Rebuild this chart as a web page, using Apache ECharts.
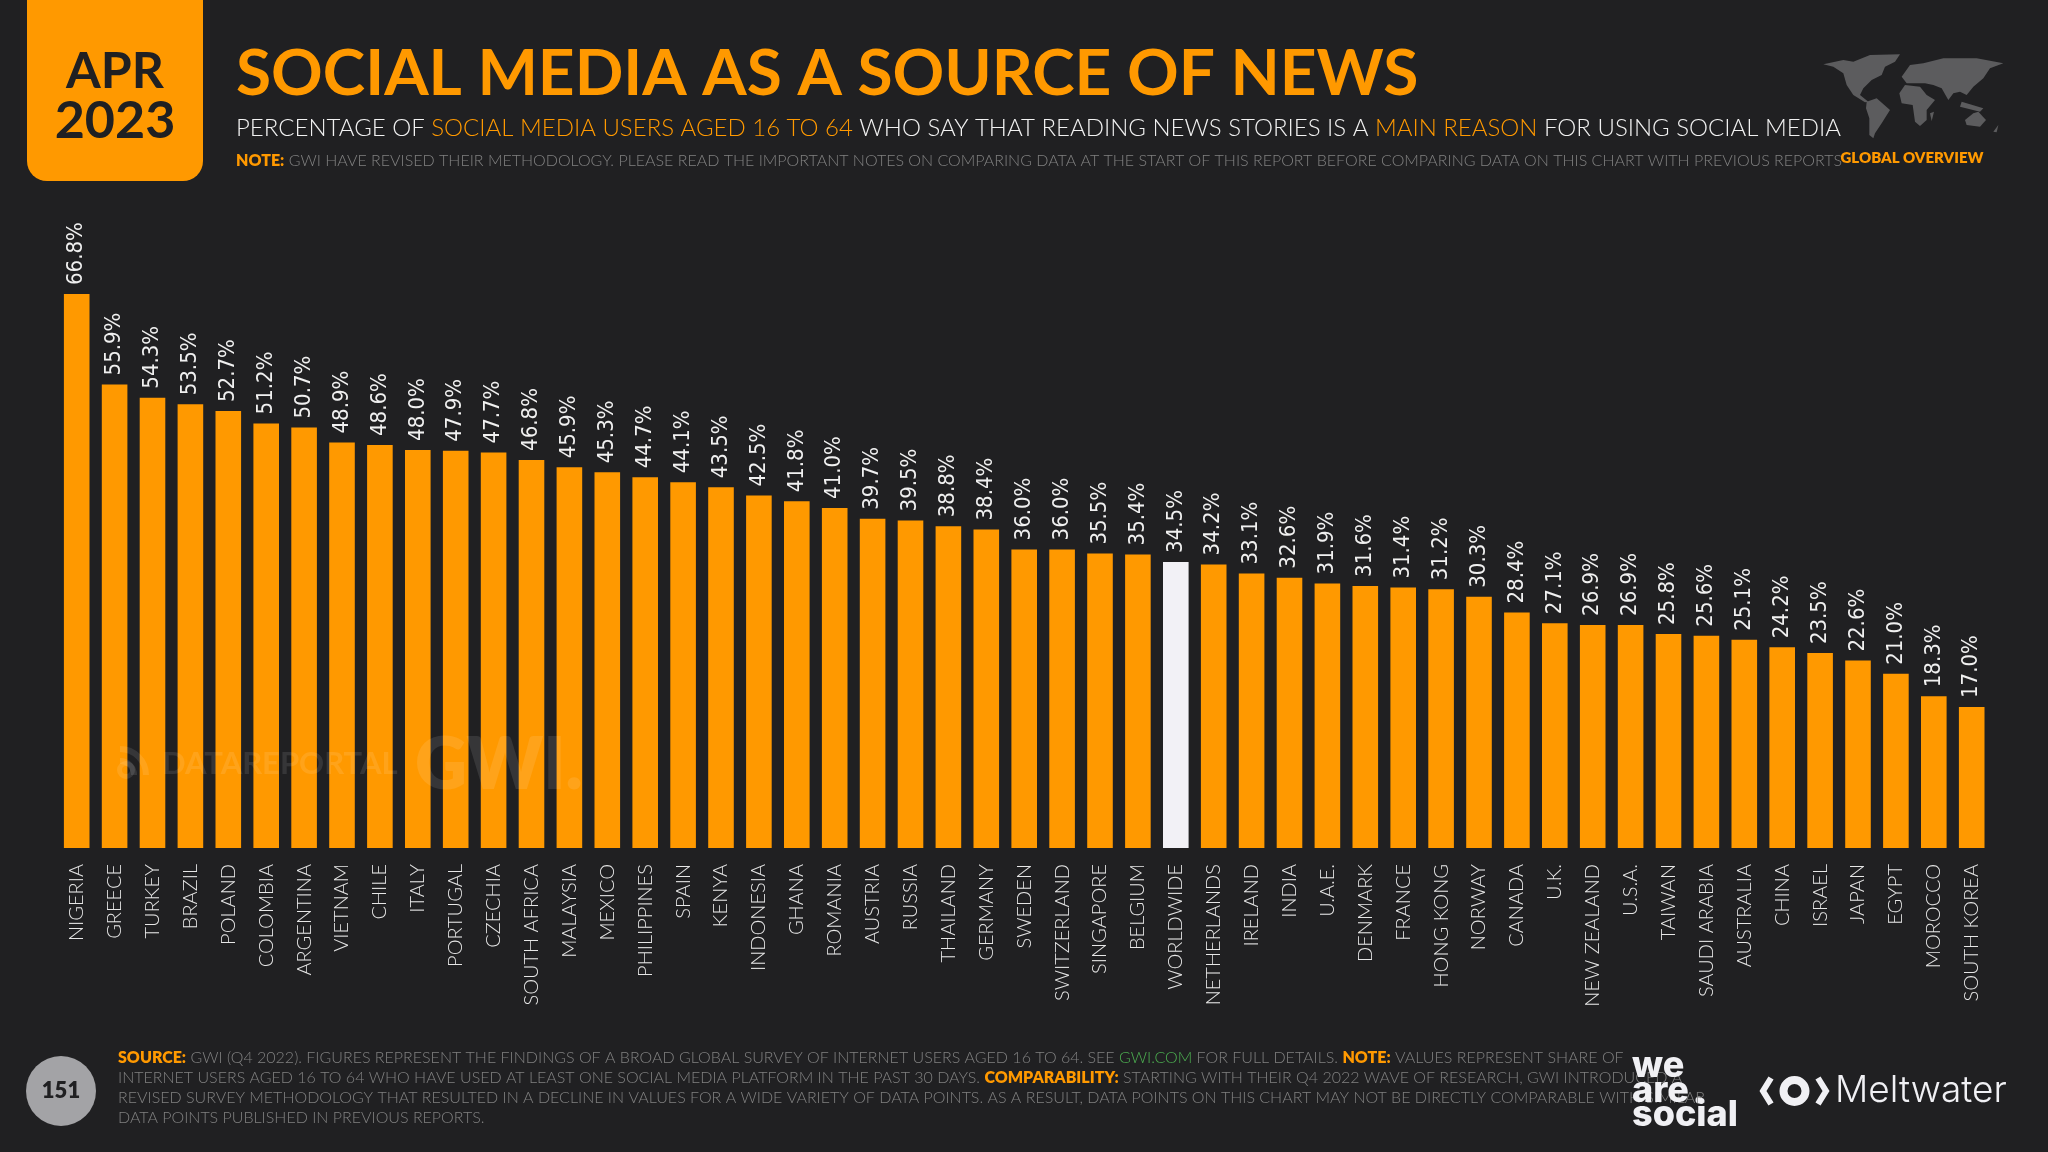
<!DOCTYPE html>
<html>
<head>
<meta charset="utf-8">
<title>Social media as a source of news</title>
<script src="https://cdn.jsdelivr.net/npm/echarts@6/dist/echarts.min.js"></script>
<style>
html, body { margin: 0; padding: 0; background: #202022; }
#chart { width: 2048px; height: 1152px; }
</style>
</head>
<body>
<div id="chart"></div>
<script>
const countries = ['NIGERIA', 'GREECE', 'TURKEY', 'BRAZIL', 'POLAND', 'COLOMBIA', 'ARGENTINA', 'VIETNAM', 'CHILE', 'ITALY',
    'PORTUGAL', 'CZECHIA', 'SOUTH AFRICA', 'MALAYSIA', 'MEXICO', 'PHILIPPINES', 'SPAIN', 'KENYA', 'INDONESIA', 'GHANA',
    'ROMANIA', 'AUSTRIA', 'RUSSIA', 'THAILAND', 'GERMANY', 'SWEDEN', 'SWITZERLAND', 'SINGAPORE', 'BELGIUM', 'WORLDWIDE',
    'NETHERLANDS', 'IRELAND', 'INDIA', 'U.A.E.', 'DENMARK', 'FRANCE', 'HONG KONG', 'NORWAY', 'CANADA', 'U.K.',
    'NEW ZEALAND', 'U.S.A.', 'TAIWAN', 'SAUDI ARABIA', 'AUSTRALIA', 'CHINA', 'ISRAEL', 'JAPAN', 'EGYPT', 'MOROCCO', 'SOUTH KOREA'];
const shares = [66.8, 55.9, 54.3, 53.5, 52.7, 51.2, 50.7, 48.9, 48.6, 48.0,
    47.9, 47.7, 46.8, 45.9, 45.3, 44.7, 44.1, 43.5, 42.5, 41.8,
    41.0, 39.7, 39.5, 38.8, 38.4, 36.0, 36.0, 35.5, 35.4, 34.5,
    34.2, 33.1, 32.6, 31.9, 31.6, 31.4, 31.2, 30.3, 28.4, 27.1,
    26.9, 26.9, 25.8, 25.6, 25.1, 24.2, 23.5, 22.6, 21.0, 18.3, 17.0];
const highlighted = 'WORLDWIDE';

const ORANGE = '#FF9900';
const BG = '#202022';
const FONT = 'Lato';

// rich text styles shared by the header and footer lines
function runs(size, plain, extra) {
    return Object.assign({
        p: { fontFamily: FONT, fontSize: size, fontWeight: 300, color: plain },
        o: { fontFamily: FONT, fontSize: size, fontWeight: 300, color: ORANGE },
        b: { fontFamily: FONT, fontSize: size, fontWeight: 800, color: ORANGE },
        g: { fontFamily: FONT, fontSize: size, fontWeight: 300, color: '#4CAF50' }
    }, extra || {});
}

function textLine(text, left, top, size, plain) {
    return { text: text, left: left, top: top, padding: 0, textStyle: { rich: runs(size, plain) } };
}

const titles = [
    { text: 'SOCIAL MEDIA AS A SOURCE OF NEWS', left: 236, top: 42, padding: 0,
      textStyle: { fontFamily: FONT, fontSize: 64, fontWeight: 700, color: ORANGE } },
    textLine('{p|PERCENTAGE OF }{o|SOCIAL MEDIA USERS AGED 16 TO 64}{p| WHO SAY THAT READING NEWS STORIES IS A }{o|MAIN REASON}{p| FOR USING SOCIAL MEDIA}', 236, 116, 24, '#F2F2F2'),
    textLine('{b|NOTE:}{p| GWI HAVE REVISED THEIR METHODOLOGY. PLEASE READ THE IMPORTANT NOTES ON COMPARING DATA AT THE START OF THIS REPORT BEFORE COMPARING DATA ON THIS CHART WITH PREVIOUS REPORTS}', 236, 153, 16, '#808080'),
    textLine('{b|SOURCE:}{p| GWI (Q4 2022). FIGURES REPRESENT THE FINDINGS OF A BROAD GLOBAL SURVEY OF INTERNET USERS AGED 16 TO 64. SEE }{g|GWI.COM}{p| FOR FULL DETAILS. }{b|NOTE:}{p| VALUES REPRESENT SHARE OF}', 118, 1050, 16, '#808080'),
    textLine('{p|INTERNET USERS AGED 16 TO 64 WHO HAVE USED AT LEAST ONE SOCIAL MEDIA PLATFORM IN THE PAST 30 DAYS. }{b|COMPARABILITY:}{p| STARTING WITH THEIR Q4 2022 WAVE OF RESEARCH, GWI INTRODUCED A}', 118, 1070, 16, '#808080'),
    textLine('{p|REVISED SURVEY METHODOLOGY THAT RESULTED IN A DECLINE IN VALUES FOR A WIDE VARIETY OF DATA POINTS. AS A RESULT, DATA POINTS ON THIS CHART MAY NOT BE DIRECTLY COMPARABLE WITH SIMILAR}', 118, 1090, 16, '#808080'),
    textLine('{p|DATA POINTS PUBLISHED IN PREVIOUS REPORTS.}', 118, 1110, 16, '#808080')
];

// map outline is a rough decoration, traced in a 3x crop of the corner
const mapShapes = [
    [[40,58],[100,45],[130,50],[180,30],[270,28],[255,50],[225,65],[215,90],[185,105],[160,130],[150,150],[175,170],[165,172],[130,150],[110,120],[100,85],[70,65]],
    [[170,170],[200,160],[240,195],[215,235],[195,265],[190,280],[178,270],[178,220],[168,190]],
    [[268,145],[285,120],[330,125],[350,150],[375,165],[350,195],[350,225],[330,243],[315,230],[308,180],[275,175]],
    [[275,95],[300,60],[340,55],[400,40],[500,40],[580,55],[540,70],[520,100],[490,125],[470,150],[450,140],[430,145],[415,165],[395,130],[370,120],[345,115],[290,115]],
    [[465,225],[490,205],[505,200],[528,225],[510,245],[470,240]],
    [[455,170],[520,190],[510,200],[450,185]],
    [[360,205],[372,200],[365,228]],
    [[550,260],[565,240],[560,262]]
];

function plainText(text, x, y, size, weight, color, align, family) {
    return { type: 'text', x: x, y: y, silent: true, z: 10,
        style: { text: text, fontFamily: family || FONT, fontSize: size, fontWeight: weight, fill: color,
            align: align || 'left', verticalAlign: 'middle' } };
}

const graphics = [
    // date badge
    { type: 'rect', shape: { x: 27, y: -30, width: 176, height: 211, r: 20 }, style: { fill: ORANGE }, silent: true },
    plainText('APR', 115, 72, 50, 700, BG, 'center'),
    plainText('2023', 115, 121, 52, 700, BG, 'center'),
    plainText('GLOBAL OVERVIEW', 1912, 158, 15, 800, ORANGE, 'center'),
    // page number
    { type: 'circle', shape: { cx: 61, cy: 1091, r: 35 }, style: { fill: '#A3A3A6' }, silent: true },
    plainText('151', 61, 1091, 22, 800, BG, 'center'),
    // we are social
    plainText('we', 1632, 1066, 36, 800, '#F0F0F4', 'left', 'Inter'),
    plainText('are', 1632, 1091, 36, 800, '#F0F0F4', 'left', 'Inter'),
    plainText('social', 1632, 1115, 36, 800, '#F0F0F4', 'left', 'Inter'),
    { type: 'circle', shape: { cx: 1699, cy: 1100, r: 3.5 }, style: { fill: '#F0F0F4' }, silent: true },
    // meltwater mark
    { type: 'polyline', shape: { points: [[1771, 1078], [1763, 1091], [1771, 1104]] }, style: { stroke: '#F0F0F4', lineWidth: 6, fill: null }, silent: true },
    { type: 'polyline', shape: { points: [[1818, 1078], [1826, 1091], [1818, 1104]] }, style: { stroke: '#F0F0F4', lineWidth: 6, fill: null }, silent: true },
    { type: 'ring', shape: { cx: 1794.5, cy: 1091, r: 15, r0: 7 }, style: { fill: '#F0F0F4' }, silent: true },
    plainText('Meltwater', 1835, 1091, 37, 300, '#F0F0F4', 'left', 'Inter'),
    // watermarks sit above the bars
    plainText('DATAREPORTAL', 162, 764, 31, 700, 'rgba(255,255,255,0.1)'),
    plainText('GWI.', 415, 766, 72, 800, 'rgba(255,255,255,0.1)'),
    { type: 'arc', shape: { cx: 120, cy: 775, r: 14, startAngle: -Math.PI * 0.5, endAngle: 0 }, style: { stroke: 'rgba(255,255,255,0.1)', lineWidth: 6, fill: null }, silent: true, z: 10 },
    { type: 'arc', shape: { cx: 120, cy: 775, r: 26, startAngle: -Math.PI * 0.5, endAngle: 0 }, style: { stroke: 'rgba(255,255,255,0.1)', lineWidth: 6, fill: null }, silent: true, z: 10 },
    { type: 'ring', shape: { cx: 126, cy: 770, r: 9, r0: 4 }, style: { fill: 'rgba(255,255,255,0.1)' }, silent: true, z: 10 }
];
mapShapes.forEach(pts => {
    graphics.push({ type: 'polygon', silent: true, style: { fill: '#5C5C5E' },
        shape: { points: pts.map(p => [1810 + p[0] / 3, 45 + p[1] / 3]) } });
});

const chart = echarts.init(document.getElementById('chart'));
chart.setOption({
    backgroundColor: BG,
    animation: false,
    title: titles,
    graphic: graphics,
    grid: { left: 57.75, width: 1932.9, top: 267.5, height: 580.5, containLabel: false },
    xAxis: {
        type: 'category',
        data: countries,
        axisLine: { show: false },
        axisTick: { show: false },
        axisLabel: { interval: 0, rotate: 90, margin: 16, fontFamily: FONT, fontSize: 20, fontWeight: 300, color: '#E6E6E6' }
    },
    yAxis: { type: 'value', min: 0, max: 70, show: false, splitLine: { show: false } },
    series: [{
        type: 'bar',
        barWidth: 25.6,
        data: shares.map((v, i) => ({
            value: v,
            itemStyle: { color: countries[i] === highlighted ? '#F2F1F6' : ORANGE }
        })),
        label: {
            show: true,
            position: 'top',
            rotate: 90,
            align: 'left',
            verticalAlign: 'middle',
            distance: 9,
            fontFamily: '"Liberation Sans Narrow", "DejaVu Sans Condensed", sans-serif',
            fontSize: 22,
            color: '#F0F0F0',
            formatter: p => p.value.toFixed(1) + '%'
        }
    }]
});

window.addEventListener('resize', () => chart.resize());
</script>
</body>
</html>
